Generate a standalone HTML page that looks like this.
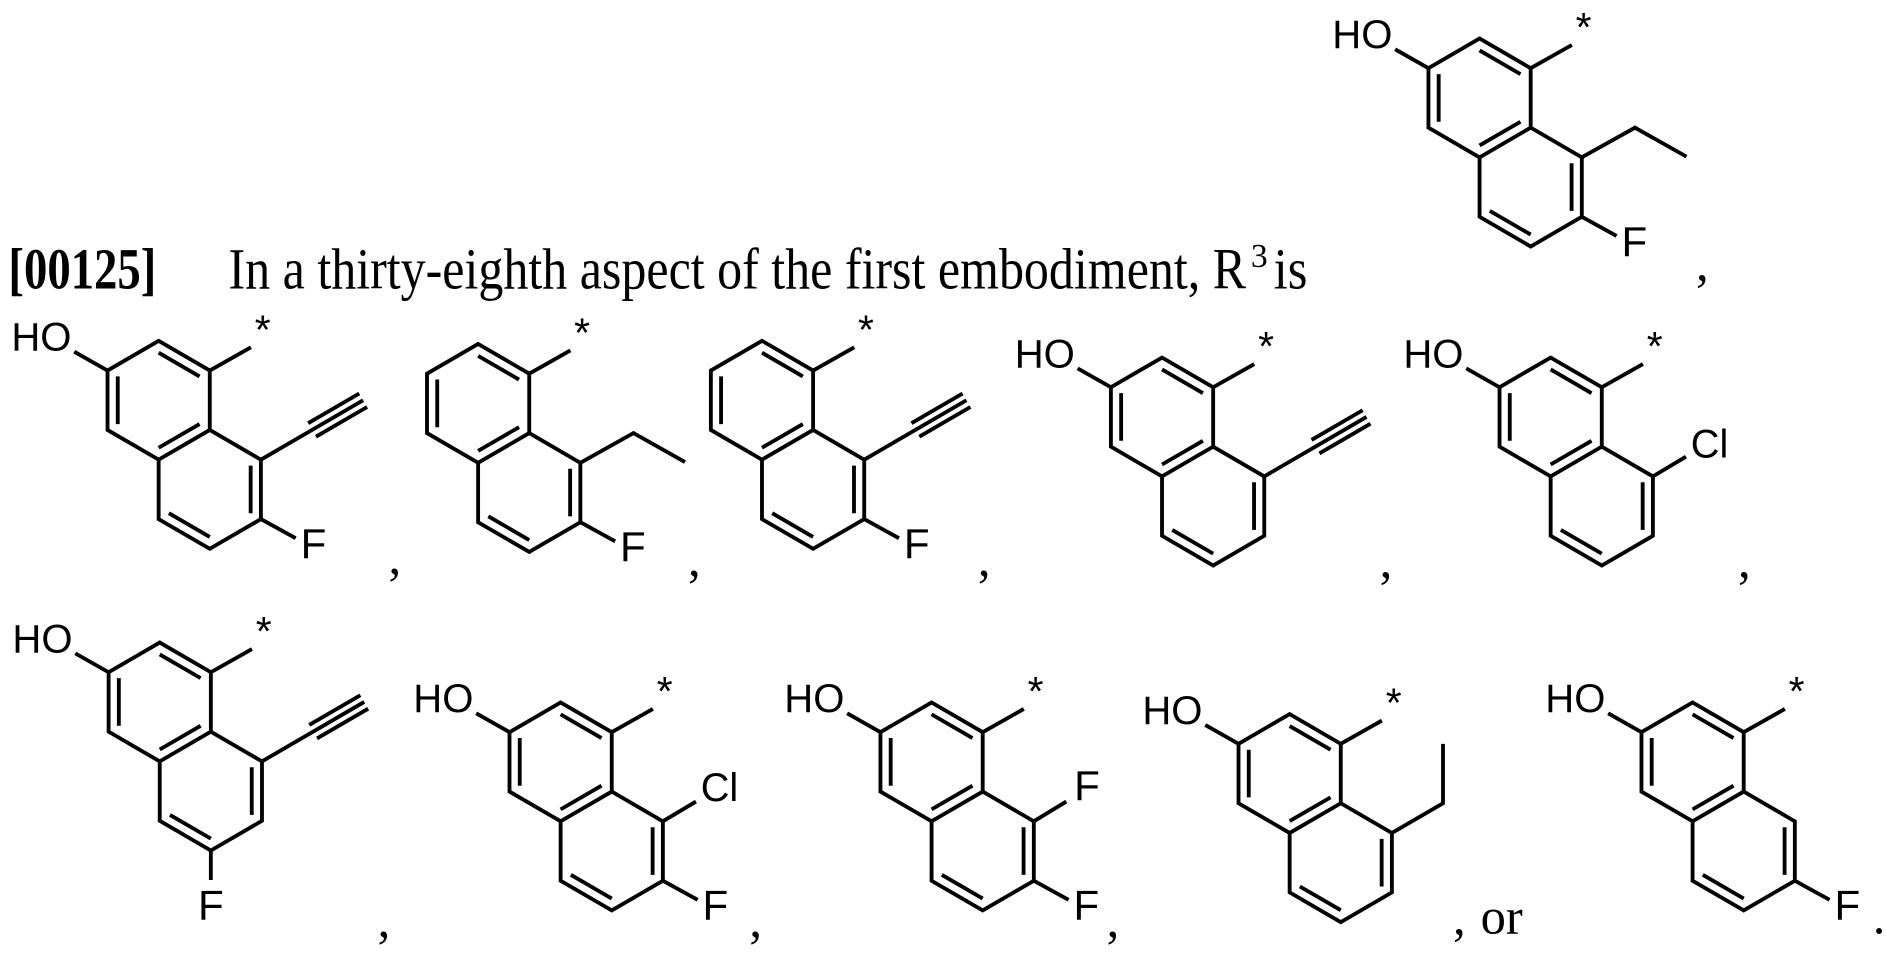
<!DOCTYPE html>
<html><head><meta charset="utf-8"><style>
html,body{margin:0;padding:0;background:#fff;}
svg{display:block}
.b{fill:none;stroke:#000;stroke-width:3.2;stroke-linecap:butt;stroke-linejoin:miter}
.l{font-family:"Liberation Sans",Arial,sans-serif;fill:#000}
.t{font-family:"Liberation Serif","Times New Roman",serif;fill:#000}
</style></head><body>
<svg width="1886" height="954" viewBox="0 0 1568 793" preserveAspectRatio="none" xmlns="http://www.w3.org/2000/svg">
<defs>
<g id="nap">
<path class="b" d="M0,0 L0,-49.4 L-42.5,-74.1 L-85,-49.4 L-85,0 L-42.5,24.7 Z M0,0 L42.5,24.7 L42.5,74.1 L0,98.8 L-42.5,74.1 L-42.5,24.7"/>
<path class="b" d="M-42.5,-64.2 L-8.5,-44.5 M-76.5,-44.5 L-76.5,-4.9 M-8.5,-4.9 L-42.5,14.8 M34,29.6 L34,69.2 M0,88.9 L-34,69.2 M0,-49.4 L34.2,-68.7"/>
<text class="l" x="44" y="-72" font-size="34" text-anchor="middle">*</text>
</g>
<g id="oh">
<path class="b" d="M-85,-49.4 L-112.7,-65.1"/>
<text class="l" x="-165" y="-66" font-size="33" textLength="50" lengthAdjust="spacingAndGlyphs">HO</text>
</g>
<g id="yne">
<path class="b" d="M42.5,24.7 L127.5,-24.7 M88.3,5.6 L130.8,-19.1 M81.8,-5.6 L124.3,-30.3"/>
</g>
<g id="et">
<path class="b" d="M42.5,24.7 L86.7,0 L129.5,24.1"/>
</g>
<g id="f2">
<path class="b" d="M42.5,74.1 L71.4,90"/>
<text class="l" x="75.5" y="106.5" font-size="35">F</text>
</g>
</defs>

<text class="t" x="7" y="240" font-size="48" font-weight="bold" textLength="123" lengthAdjust="spacingAndGlyphs">[00125]</text>
<text class="t" x="190" y="240" font-size="48" textLength="846" lengthAdjust="spacingAndGlyphs">In a thirty-eighth aspect of the first embodiment, R</text>
<text class="t" x="1040" y="222" font-size="28">3</text>
<text class="t" x="1059" y="240" font-size="48" textLength="28" lengthAdjust="spacingAndGlyphs">is</text>

<g transform="translate(1272.6,106.1)"><use href="#nap"/><use href="#oh"/><use href="#et"/><use href="#f2"/></g>
<g transform="translate(174.4,357.4)"><use href="#nap"/><use href="#oh"/><use href="#yne"/><use href="#f2"/></g>
<g transform="translate(440,360)"><use href="#nap"/><use href="#et"/><use href="#f2"/></g>
<g transform="translate(676,357.4)"><use href="#nap"/><use href="#yne"/><use href="#f2"/></g>
<g transform="translate(1008.6,371.3)"><use href="#nap"/><use href="#oh"/><use href="#yne"/></g>
<g transform="translate(1331.7,371.3)"><use href="#nap"/><use href="#oh"/>
<path class="b" d="M42.5,24.7 L70,8.3"/><text class="l" x="74" y="9" font-size="33">Cl</text></g>
<g transform="translate(175.3,608.2)"><use href="#nap"/><use href="#oh"/><use href="#yne"/>
<path class="b" d="M0,98.8 L0,123.3"/><text class="l" x="0" y="156" font-size="35" text-anchor="middle">F</text></g>
<g transform="translate(508.6,658)"><use href="#nap"/><use href="#oh"/><use href="#f2"/>
<path class="b" d="M42.5,24.7 L70,8.3"/><text class="l" x="74" y="8" font-size="33">Cl</text></g>
<g transform="translate(817,658)"><use href="#nap"/><use href="#oh"/><use href="#f2"/>
<path class="b" d="M42.5,24.7 L69.5,8.3"/><text class="l" x="76" y="7" font-size="35">F</text></g>
<g transform="translate(1114.7,667.7)"><use href="#nap"/><use href="#oh"/>
<path class="b" d="M42.5,24.7 L85,0 L85,-49.4"/></g>
<g transform="translate(1449.7,658)"><use href="#nap"/><use href="#oh"/><use href="#f2"/></g>

<g class="t" font-size="42">
<text x="1410" y="233">,</text>
<text x="323" y="477">,</text>
<text x="572" y="479">,</text>
<text x="813" y="479">,</text>
<text x="1147" y="480">,</text>
<text x="1445" y="480">,</text>
<text x="314" y="779">,</text>
<text x="623" y="779">,</text>
<text x="920" y="779">,</text>
<text x="1208" y="777">,</text>
<text x="1231" y="776" textLength="35" lengthAdjust="spacingAndGlyphs">or</text>
<text x="1557" y="776">.</text>
</g>
</svg>
</body></html>
